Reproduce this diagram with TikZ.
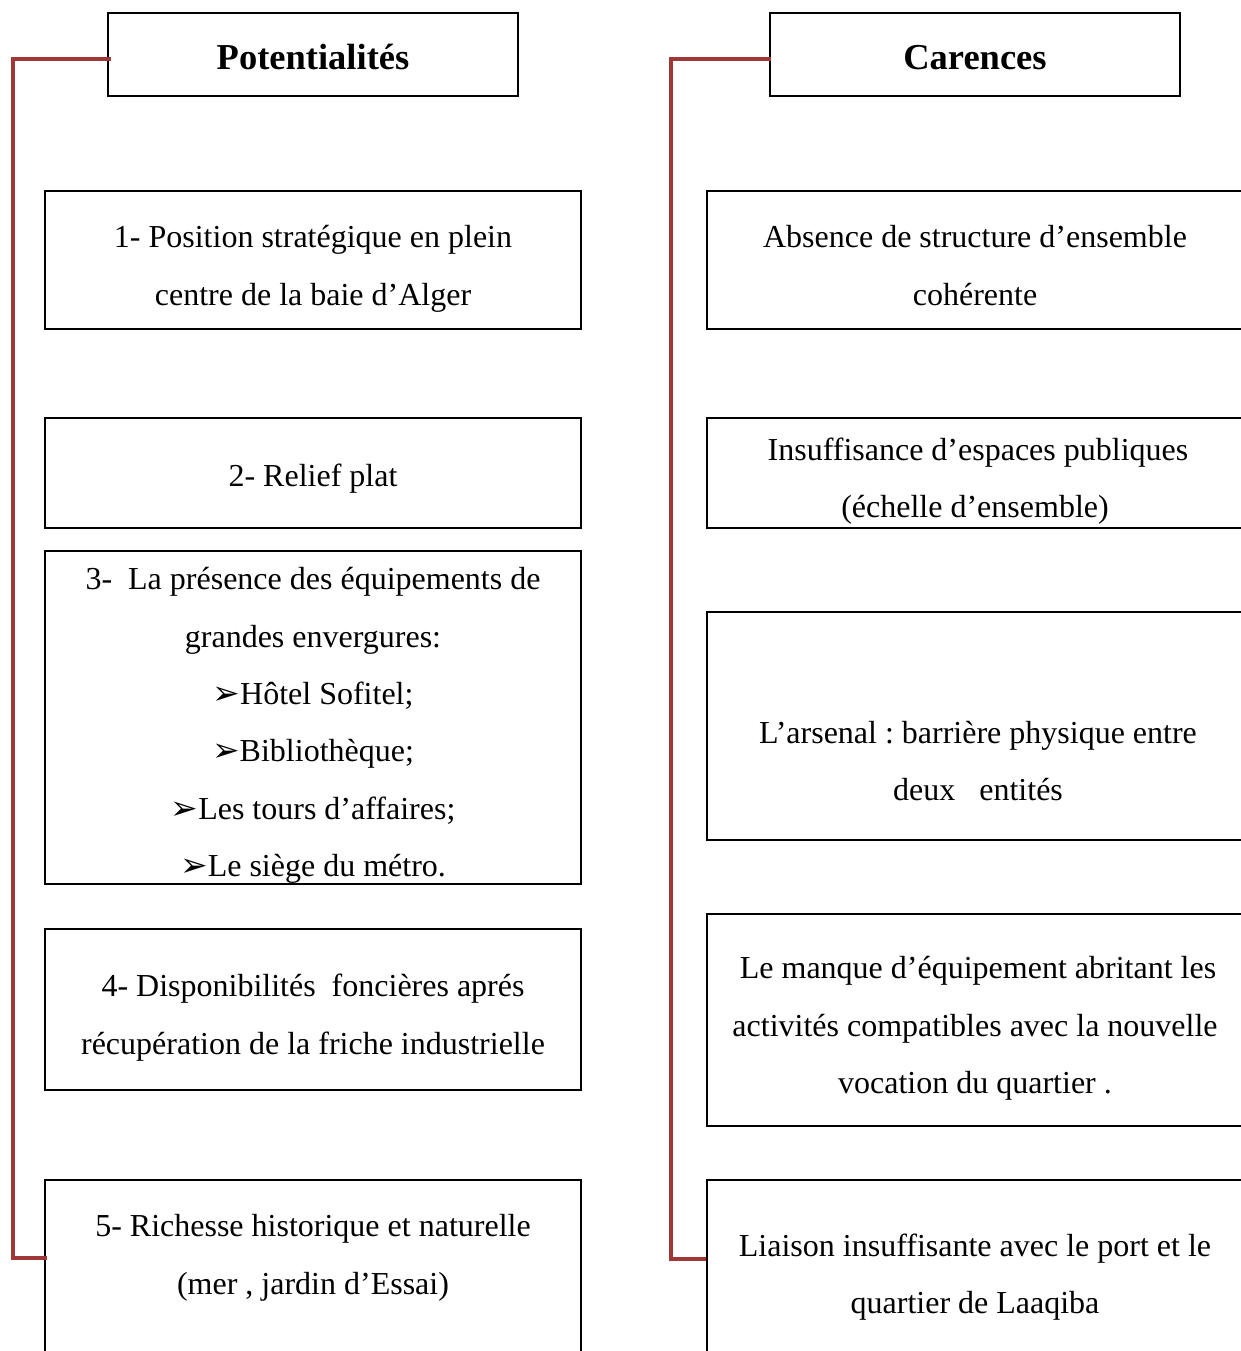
\documentclass[tikz,border=0pt]{standalone}
\usepackage{fontspec}
\setmainfont{Liberation Serif}
\newfontfamily\dejavu{DejaVu Sans}
\newcommand\arw{{\dejavu\fontsize{33}{33}\selectfont ➢}}
\definecolor{linkred}{RGB}{160,55,55}
\frenchspacing
\tikzset{
  x=1pt, y=-1pt,
  boxstyle/.style={draw=black, line width=2pt, rectangle, inner sep=0pt},
  titletext/.style={font=\fontsize{36.5}{40}\selectfont\bfseries, anchor=base, inner sep=0pt},
  linetext/.style={font=\fontsize{32}{40}\selectfont, anchor=base, inner sep=0pt},
  redline/.style={draw=linkred, line width=3.5pt}
}
\begin{document}
\begin{tikzpicture}
\useasboundingbox (0,0) rectangle (1241,1351);
\clip (0,0) rectangle (1241,1351);
% ---------- left column ----------
\node[boxstyle, minimum width=410pt, minimum height=83pt] (ptitle) at (313,54.5) {};
\node[titletext] (ptitle-t) at (313,70) {Potentialités};

\node[boxstyle, minimum width=536pt, minimum height=138pt] (b1) at (313,260) {};
\node[linetext] (b1a) at (313,247) {1- Position stratégique en plein};
\node[linetext] (b1b) at (313,305) {centre de la baie d’Alger};

\node[boxstyle, minimum width=536pt, minimum height=110pt] (b2) at (313,473) {};
\node[linetext] (b2a) at (313,486) {2- Relief plat};

\node[boxstyle, minimum width=536pt, minimum height=333pt] (b3) at (313,717.5) {};
\node[linetext] (b3a) at (313,589) {3-\ \ La présence des équipements de};
\node[linetext] (b3b) at (313,647) {grandes envergures:};
\node[linetext] (b3c) at (313,704) {\arw Hôtel Sofitel;};
\node[linetext] (b3d) at (313,761) {\arw Bibliothèque;};
\node[linetext] (b3e) at (313,819) {\arw Les tours d’affaires;};
\node[linetext] (b3f) at (313,876) {\arw Le siège du métro.};

\node[boxstyle, minimum width=536pt, minimum height=161pt] (b4) at (313,1009.5) {};
\node[linetext] (b4a) at (313,996) {4- Disponibilités\ \ foncières aprés};
\node[linetext] (b4b) at (313,1054) {récupération de la friche industrielle};

\node[boxstyle, minimum width=536pt, minimum height=200pt] (b5) at (313,1280) {};
\node[linetext] (b5a) at (313,1236) {5- Richesse historique et naturelle};
\node[linetext] (b5b) at (313,1294) {(mer , jardin d’Essai)};

% ---------- right column ----------
\node[boxstyle, minimum width=410pt, minimum height=83pt] (ctitle) at (975,54.5) {};
\node[titletext] (ctitle-t) at (975,70) {Carences};

\node[boxstyle, minimum width=546pt, minimum height=138pt] (r1) at (980,260) {};
\node[linetext] (r1a) at (975,247) {Absence de structure d’ensemble};
\node[linetext] (r1b) at (975,305) {cohérente};

\node[boxstyle, minimum width=546pt, minimum height=110pt] (r2) at (980,473) {};
\node[linetext] (r2a) at (978,460) {Insuffisance d’espaces publiques};
\node[linetext] (r2b) at (975,517) {(échelle d’ensemble)};

\node[boxstyle, minimum width=546pt, minimum height=228pt] (r3) at (980,726) {};
\node[linetext] (r3a) at (978,743) {L’arsenal : barrière physique entre};
\node[linetext] (r3b) at (978,800) {deux\ \ \ entités};

\node[boxstyle, minimum width=546pt, minimum height=212pt] (r4) at (980,1020) {};
\node[linetext] (r4a) at (978,978) {Le manque d’équipement abritant les};
\node[linetext] (r4b) at (975,1036) {activités compatibles avec la nouvelle};
\node[linetext] (r4c) at (975,1093) {vocation du quartier .};

\node[boxstyle, minimum width=546pt, minimum height=200pt] (r5) at (980,1280) {};
\node[linetext] (r5a) at (975,1256) {Liaison insuffisante avec le port et le};
\node[linetext] (r5b) at (975,1313) {quartier de Laaqiba};

% ---------- connectors ----------
\coordinate (lTop) at (13,59);
\coordinate (lBot) at (13,1258);
\coordinate (rTop) at (671,59);
\coordinate (rBot) at (671,1259);
\draw[redline] ([xshift=4pt]ptitle.west|-lTop) -- (lTop) -- (lBot) -- ([xshift=3pt]b5.west|-lBot);
\draw[redline] ([xshift=2pt]ctitle.west|-rTop) -- (rTop) -- (rBot) -- (r5.west|-rBot);
\end{tikzpicture}
\end{document}
